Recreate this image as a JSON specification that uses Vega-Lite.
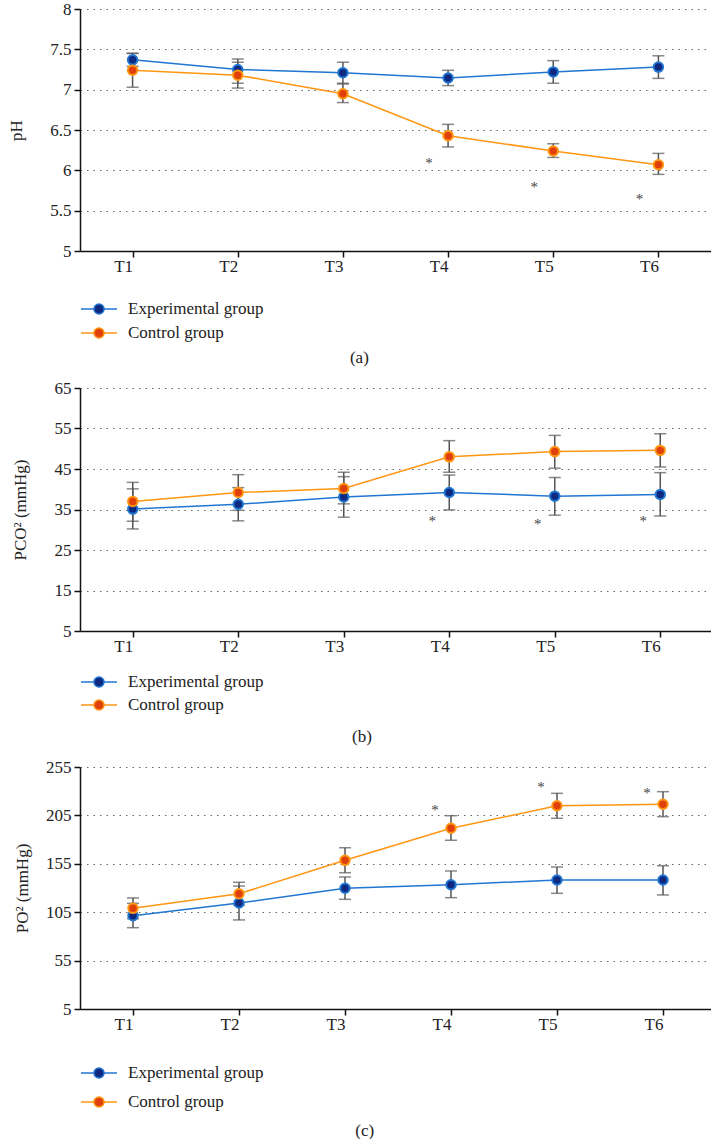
{
  "$schema": "https://vega.github.io/schema/vega-lite/v6.json",
  "padding": {"left": 7, "top": 0, "right": 0, "bottom": 0},
  "background": "white",
  "datasets": {
    "a": [
      {"t": "T1", "group": "Experimental group", "mean": 7.37, "lo": 7.29, "hi": 7.45},
      {"t": "T2", "group": "Experimental group", "mean": 7.25, "lo": 7.08, "hi": 7.38},
      {"t": "T3", "group": "Experimental group", "mean": 7.21, "lo": 7.08, "hi": 7.34},
      {"t": "T4", "group": "Experimental group", "mean": 7.145, "lo": 7.05, "hi": 7.24},
      {"t": "T5", "group": "Experimental group", "mean": 7.22, "lo": 7.08, "hi": 7.36},
      {"t": "T6", "group": "Experimental group", "mean": 7.28, "lo": 7.14, "hi": 7.42},
      {"t": "T1", "group": "Control group", "mean": 7.24, "lo": 7.03, "hi": 7.45},
      {"t": "T2", "group": "Control group", "mean": 7.18, "lo": 7.02, "hi": 7.34},
      {"t": "T3", "group": "Control group", "mean": 6.95, "lo": 6.84, "hi": 7.07},
      {"t": "T4", "group": "Control group", "mean": 6.43, "lo": 6.29, "hi": 6.57},
      {"t": "T5", "group": "Control group", "mean": 6.24, "lo": 6.16, "hi": 6.33},
      {"t": "T6", "group": "Control group", "mean": 6.07, "lo": 5.95, "hi": 6.21}
    ],
    "a_star": [
      {"t": "T4", "v": 6.09},
      {"t": "T5", "v": 5.79},
      {"t": "T6", "v": 5.64}
    ],
    "b": [
      {"t": "T1", "group": "Experimental group", "mean": 35.1, "lo": 30.2, "hi": 40.1},
      {"t": "T2", "group": "Experimental group", "mean": 36.3, "lo": 32.2, "hi": 40.4},
      {"t": "T3", "group": "Experimental group", "mean": 38.1, "lo": 33.1, "hi": 43.1},
      {"t": "T4", "group": "Experimental group", "mean": 39.2, "lo": 34.9, "hi": 43.5},
      {"t": "T5", "group": "Experimental group", "mean": 38.3, "lo": 33.6, "hi": 42.9},
      {"t": "T6", "group": "Experimental group", "mean": 38.7, "lo": 33.4, "hi": 44.1},
      {"t": "T1", "group": "Control group", "mean": 37.0, "lo": 32.1, "hi": 41.7},
      {"t": "T2", "group": "Control group", "mean": 39.2, "lo": 34.8, "hi": 43.6},
      {"t": "T3", "group": "Control group", "mean": 40.2, "lo": 36.4, "hi": 44.2},
      {"t": "T4", "group": "Control group", "mean": 48.0, "lo": 44.2, "hi": 52.0},
      {"t": "T5", "group": "Control group", "mean": 49.3, "lo": 45.2, "hi": 53.3},
      {"t": "T6", "group": "Control group", "mean": 49.6, "lo": 45.5, "hi": 53.7}
    ],
    "b_star": [
      {"t": "T4", "v": 32.1},
      {"t": "T5", "v": 31.4},
      {"t": "T6", "v": 32.2}
    ],
    "c": [
      {"t": "T1", "group": "Experimental group", "mean": 101.4, "lo": 89.0, "hi": 114.2},
      {"t": "T2", "group": "Experimental group", "mean": 114.5, "lo": 97.0, "hi": 132.0},
      {"t": "T3", "group": "Experimental group", "mean": 129.7, "lo": 118.3, "hi": 141.4},
      {"t": "T4", "group": "Experimental group", "mean": 133.4, "lo": 120.0, "hi": 147.6},
      {"t": "T5", "group": "Experimental group", "mean": 138.3, "lo": 124.5, "hi": 151.7},
      {"t": "T6", "group": "Experimental group", "mean": 138.3, "lo": 122.8, "hi": 153.0},
      {"t": "T1", "group": "Control group", "mean": 109.0, "lo": 98.3, "hi": 119.7},
      {"t": "T2", "group": "Control group", "mean": 124.1, "lo": 112.3, "hi": 135.9},
      {"t": "T3", "group": "Control group", "mean": 158.6, "lo": 145.8, "hi": 171.6},
      {"t": "T4", "group": "Control group", "mean": 191.7, "lo": 179.3, "hi": 204.7},
      {"t": "T5", "group": "Control group", "mean": 215.0, "lo": 202.0, "hi": 227.8},
      {"t": "T6", "group": "Control group", "mean": 216.5, "lo": 203.7, "hi": 229.5}
    ],
    "c_star": [
      {"t": "T4", "v": 210.9},
      {"t": "T5", "v": 234.0},
      {"t": "T6", "v": 228.1}
    ]
  },
  "columns": 1,
  "align": "none",
  "spacing": 13,
  "resolve": {
    "scale": {"stroke": "independent", "fill": "independent"},
    "legend": {"stroke": "independent", "fill": "independent"}
  },
  "concat": [
    {
      "width": 631,
      "height": 242,
      "title": {"text": "(a)", "orient": "bottom", "frame": "bounds", "anchor": "middle", "offset": 8},
      "data": {"name": "a"},
      "layer": [
        {
          "mark": {"type": "errorbar", "ticks": {"size": 12, "color": "#555555", "thickness": 1.5}, "rule": {"color": "#555555", "strokeWidth": 1.5}},
          "encoding": {
            "x": {"field": "t", "type": "ordinal", "title": null},
            "y": {"field": "lo", "type": "quantitative", "title": "pH"},
            "y2": {"field": "hi"}
          }
        },
        {
          "mark": {"type": "line", "strokeWidth": 1.5},
          "encoding": {
            "x": {"field": "t", "type": "ordinal", "title": null, "scale": {"type": "point", "padding": 0.5}, "axis": {"labelAngle": 0}},
            "y": {"field": "mean", "type": "quantitative", "title": "pH", "scale": {"domain": [5, 8], "nice": false, "zero": false}, "axis": {"values": [5, 5.5, 6, 6.5, 7, 7.5, 8], "labelExpr": "'' + datum.value", "titlePadding": 24}},
            "stroke": {"field": "group", "type": "nominal", "title": null, "legend": {"offset": 25, "rowPadding": 5}, "scale": {"domain": ["Experimental group", "Control group"], "range": ["#2176d2", "#ff9612"]}}
          }
        },
        {
          "mark": {"type": "point", "filled": true, "size": 90, "strokeWidth": 2, "opacity": 1},
          "encoding": {
            "x": {"field": "t", "type": "ordinal", "title": null},
            "y": {"field": "mean", "type": "quantitative", "title": "pH"},
            "fill": {"field": "group", "type": "nominal", "title": null, "scale": {"domain": ["Experimental group", "Control group"], "range": ["#0d2a80", "#e0400a"]}, "legend": {"offset": 25, "rowPadding": 5}},
            "stroke": {"field": "group", "type": "nominal", "title": null, "legend": {"offset": 25, "rowPadding": 5}}
          }
        },
        {
          "data": {"name": "a_star"},
          "mark": {"type": "text", "text": "*", "fontSize": 15, "color": "#444444", "dx": -19, "baseline": "middle"},
          "encoding": {
            "x": {"field": "t", "type": "ordinal", "title": null},
            "y": {"field": "v", "type": "quantitative", "title": "pH"}
          }
        }
      ]
    },
    {
      "width": 633,
      "height": 243,
      "title": {"text": "(b)", "orient": "bottom", "frame": "bounds", "anchor": "middle", "offset": 15},
      "data": {"name": "b"},
      "layer": [
        {
          "mark": {"type": "errorbar", "ticks": {"size": 12, "color": "#555555", "thickness": 1.5}, "rule": {"color": "#555555", "strokeWidth": 1.5}},
          "encoding": {
            "x": {"field": "t", "type": "ordinal", "title": null},
            "y": {"field": "lo", "type": "quantitative", "title": "PCO² (mmHg)"},
            "y2": {"field": "hi"}
          }
        },
        {
          "mark": {"type": "line", "strokeWidth": 1.5},
          "encoding": {
            "x": {"field": "t", "type": "ordinal", "title": null, "scale": {"type": "point", "padding": 0.5}, "axis": {"labelAngle": 0}},
            "y": {"field": "mean", "type": "quantitative", "title": "PCO² (mmHg)", "scale": {"domain": [5, 65], "nice": false, "zero": false}, "axis": {"values": [5, 15, 25, 35, 45, 55, 65], "labelExpr": "'' + datum.value", "titlePadding": 25}},
            "stroke": {"field": "group", "type": "nominal", "title": null, "legend": {"offset": 18, "rowPadding": 4}, "scale": {"domain": ["Experimental group", "Control group"], "range": ["#2176d2", "#ff9612"]}}
          }
        },
        {
          "mark": {"type": "point", "filled": true, "size": 90, "strokeWidth": 2, "opacity": 1},
          "encoding": {
            "x": {"field": "t", "type": "ordinal", "title": null},
            "y": {"field": "mean", "type": "quantitative", "title": "PCO² (mmHg)"},
            "fill": {"field": "group", "type": "nominal", "title": null, "scale": {"domain": ["Experimental group", "Control group"], "range": ["#0d2a80", "#e0400a"]}, "legend": {"offset": 18, "rowPadding": 4}},
            "stroke": {"field": "group", "type": "nominal", "title": null, "legend": {"offset": 18, "rowPadding": 4}}
          }
        },
        {
          "data": {"name": "b_star"},
          "mark": {"type": "text", "text": "*", "fontSize": 15, "color": "#444444", "dx": -17, "baseline": "middle"},
          "encoding": {
            "x": {"field": "t", "type": "ordinal", "title": null},
            "y": {"field": "v", "type": "quantitative", "title": "PCO² (mmHg)"}
          }
        }
      ]
    },
    {
      "width": 636,
      "height": 242,
      "title": {"text": "(c)", "orient": "bottom", "frame": "bounds", "anchor": "middle", "offset": 12},
      "data": {"name": "c"},
      "layer": [
        {
          "mark": {"type": "errorbar", "ticks": {"size": 12, "color": "#555555", "thickness": 1.5}, "rule": {"color": "#555555", "strokeWidth": 1.5}},
          "encoding": {
            "x": {"field": "t", "type": "ordinal", "title": null},
            "y": {"field": "lo", "type": "quantitative", "title": "PO² (mmHg)"},
            "y2": {"field": "hi"}
          }
        },
        {
          "mark": {"type": "line", "strokeWidth": 1.5},
          "encoding": {
            "x": {"field": "t", "type": "ordinal", "title": null, "scale": {"type": "point", "padding": 0.5}, "axis": {"labelAngle": 0}},
            "y": {"field": "mean", "type": "quantitative", "title": "PO² (mmHg)", "scale": {"domain": [5, 255], "nice": false, "zero": false}, "axis": {"values": [5, 55, 105, 155, 205, 255], "labelExpr": "'' + datum.value", "titlePadding": 14}},
            "stroke": {"field": "group", "type": "nominal", "title": null, "legend": {"offset": 31, "rowPadding": 10}, "scale": {"domain": ["Experimental group", "Control group"], "range": ["#2176d2", "#ff9612"]}}
          }
        },
        {
          "mark": {"type": "point", "filled": true, "size": 90, "strokeWidth": 2, "opacity": 1},
          "encoding": {
            "x": {"field": "t", "type": "ordinal", "title": null},
            "y": {"field": "mean", "type": "quantitative", "title": "PO² (mmHg)"},
            "fill": {"field": "group", "type": "nominal", "title": null, "scale": {"domain": ["Experimental group", "Control group"], "range": ["#0d2a80", "#e0400a"]}, "legend": {"offset": 31, "rowPadding": 10}},
            "stroke": {"field": "group", "type": "nominal", "title": null, "legend": {"offset": 31, "rowPadding": 10}}
          }
        },
        {
          "data": {"name": "c_star"},
          "mark": {"type": "text", "text": "*", "fontSize": 15, "color": "#444444", "dx": -16, "baseline": "middle"},
          "encoding": {
            "x": {"field": "t", "type": "ordinal", "title": null},
            "y": {"field": "v", "type": "quantitative", "title": "PO² (mmHg)"}
          }
        }
      ]
    }
  ],
  "config": {
    "font": "Liberation Serif",
    "view": {"stroke": null},
    "title": {"fontSize": 17, "fontWeight": "normal", "color": "#222222", "font": "Liberation Serif"},
    "axis": {
      "domainColor": "#111111",
      "domainWidth": 1.5,
      "tickColor": "#111111",
      "tickWidth": 1.5,
      "tickSize": 6,
      "labelFont": "Liberation Serif",
      "labelFontSize": 17,
      "labelColor": "#222222",
      "titleFont": "Liberation Serif",
      "titleFontSize": 17,
      "titleFontWeight": "normal",
      "titleColor": "#222222"
    },
    "axisY": {
      "grid": true,
      "gridDash": [1.5, 5],
      "gridColor": "#666666",
      "gridWidth": 1.2,
      "labelPadding": 3
    },
    "axisX": {
      "grid": false,
      "labelPadding": 9
    },
    "legend": {
      "orient": "bottom",
      "direction": "vertical",
      "labelFont": "Liberation Serif",
      "labelFontSize": 17,
      "labelColor": "#222222",
      "labelOffset": 28,
      "rowPadding": 5,
      "symbolType": "M-1,0L0.44,0M1.56,0L3,0M0.44,0A0.56,0.56,0,1,1,1.56,0A0.56,0.56,0,1,1,0.44,0Z",
      "symbolSize": 324,
      "symbolStrokeWidth": 1.5,
      "symbolOpacity": 1
    }
  }
}
